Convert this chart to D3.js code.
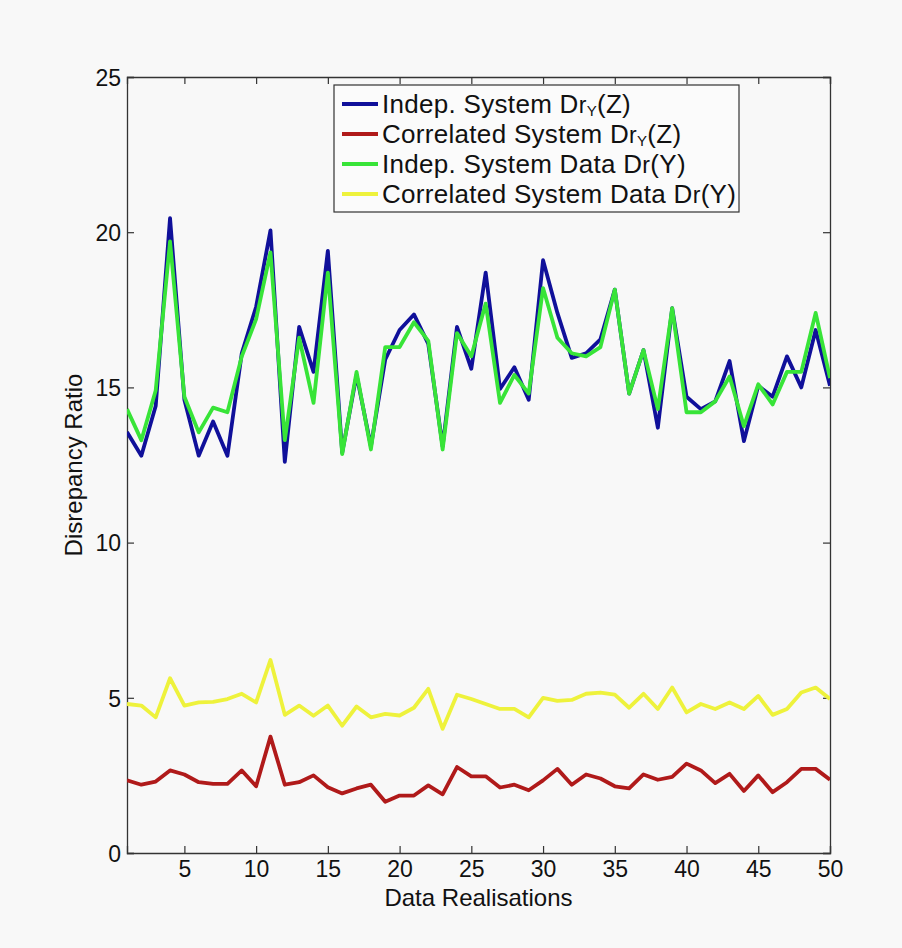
<!DOCTYPE html>
<html>
<head>
<meta charset="utf-8">
<script src="https://cdn.jsdelivr.net/npm/d3@7"></script>
<style>
html,body{margin:0;padding:0;background:#f8f8f8;}
svg{display:block;}
text{font-family:"Liberation Sans",Arial,Helvetica,sans-serif;fill:#111;}
</style>
</head>
<body>
<svg id="chart" width="902" height="948"></svg>
<script>
// ---- data ----
const realisations = d3.range(1, 51);
const indepZ = [13.56,12.8,14.4,20.45,14.6,12.8,13.9,12.8,16.1,17.6,
                20.06,12.6,16.95,15.5,19.4,12.9,15.4,13.1,15.9,16.85,
                17.35,16.4,13.1,16.95,15.6,18.7,14.95,15.65,14.6,19.1,
                17.4,15.95,16.1,16.55,18.15,14.8,16.2,13.7,17.55,14.7,
                14.3,14.55,15.85,13.27,15.05,14.7,16.0,15.0,16.85,15.05];
const corrZ = [2.34,2.2,2.3,2.66,2.53,2.28,2.23,2.23,2.66,2.15,
               3.75,2.2,2.28,2.5,2.12,1.92,2.08,2.2,1.65,1.85,
               1.85,2.18,1.89,2.77,2.47,2.47,2.11,2.2,2.02,2.34,
               2.71,2.2,2.53,2.4,2.15,2.08,2.53,2.36,2.45,2.88,
               2.66,2.25,2.55,2.0,2.5,1.96,2.28,2.71,2.71,2.36];
const indepY = [14.3,13.3,14.9,19.7,14.7,13.55,14.35,14.2,16.0,17.2,
                19.35,13.3,16.6,14.5,18.7,12.85,15.5,13.0,16.3,16.3,
                17.1,16.5,13.0,16.75,16.0,17.7,14.5,15.4,14.8,18.2,
                16.6,16.1,16.0,16.3,18.15,14.8,16.2,14.3,17.55,14.2,
                14.2,14.55,15.35,13.75,15.1,14.45,15.5,15.5,17.4,15.3];
const corrY = [4.8,4.75,4.37,5.63,4.75,4.85,4.87,4.96,5.13,4.85,
               6.22,4.45,4.75,4.42,4.75,4.1,4.72,4.37,4.48,4.43,
               4.68,5.29,4.0,5.1,4.96,4.8,4.64,4.64,4.37,5.0,
               4.9,4.93,5.13,5.17,5.1,4.68,5.13,4.64,5.33,4.53,
               4.8,4.64,4.85,4.64,5.06,4.45,4.64,5.17,5.33,4.96];
const xTicks = [5,10,15,20,25,30,35,40,45,50];
const yTicks = [0,5,10,15,20,25];
const seriesNames = ["Indep. System", "Correlated System", "Indep. System Data", "Correlated System Data"];
const seriesColors = ["#10109a", "#b01a1a", "#38e438", "#eef23c"];

// ---- layout ----
const svg = d3.select("#chart");
const W = 902, H = 948;
const mLeft = 127, mRight = 830, mTop = 77, mBottom = 853;
svg.append("rect").attr("width", W).attr("height", H).attr("fill", "#f8f8f8");

const x = d3.scaleLinear().domain([1, 50]).range([mLeft, mRight]);
const y = d3.scaleLinear().domain([0, 25]).range([mBottom, mTop]);

// axes (boxed, inward ticks)
const tickLen = 7;
const axB = svg.append("g").attr("transform", `translate(0,${mBottom})`)
  .call(d3.axisBottom(x).tickValues(xTicks).tickSize(-tickLen).tickPadding(8));
const axT = svg.append("g").attr("transform", `translate(0,${mTop})`)
  .call(d3.axisTop(x).tickValues(xTicks).tickSize(-tickLen).tickFormat(""));
const axL = svg.append("g").attr("transform", `translate(${mLeft},0)`)
  .call(d3.axisLeft(y).tickValues(yTicks).tickSize(-tickLen).tickPadding(6));
const axR = svg.append("g").attr("transform", `translate(${mRight},0)`)
  .call(d3.axisRight(y).tickValues(yTicks).tickSize(-tickLen).tickFormat(""));
[axB, axT, axL, axR].forEach(g => {
  g.select(".domain").attr("stroke", "#333").attr("stroke-width", 1.3);
  g.selectAll(".tick line").attr("stroke", "#333").attr("stroke-width", 1.2);
  g.selectAll("text").attr("font-size", 23).attr("fill", "#111")
    .attr("font-family", "Liberation Sans, Arial, sans-serif");
});
axL.selectAll(".tick text").attr("dy", "0.36em");

// axis titles
svg.append("text").attr("x", (mLeft + mRight) / 2).attr("y", 906)
  .attr("text-anchor", "middle").attr("font-size", 24).text("Data Realisations");
svg.append("text").attr("transform", `translate(82,${(mTop + mBottom) / 2}) rotate(-90)`)
  .attr("text-anchor", "middle").attr("font-size", 24).text("Disrepancy Ratio");

// lines
const allSeries = [indepZ, corrZ, indepY, corrY];
const line = d3.line().x((d, i) => x(realisations[i])).y(d => y(d));
svg.append("defs").append("clipPath").attr("id", "clip")
  .append("rect").attr("x", mLeft).attr("y", mTop).attr("width", mRight - mLeft).attr("height", mBottom - mTop);
const plot = svg.append("g").attr("clip-path", "url(#clip)");
allSeries.forEach((s, k) => {
  plot.append("path").datum(s).attr("d", line)
    .attr("fill", "none").attr("stroke", seriesColors[k])
    .attr("stroke-width", 3.8).attr("stroke-linejoin", "round");
});

// legend
const lg = svg.append("g");
lg.append("rect").attr("x", 334).attr("y", 85).attr("width", 405).attr("height", 127)
  .attr("fill", "#fbfbfb").attr("stroke", "#333").attr("stroke-width", 1.2);
const suffix = [["r", "Y", "(Z)"], ["r", "Y", "(Z)"], ["r", null, "(Y)"], ["r", null, "(Y)"]];
seriesNames.forEach((name, k) => {
  const by = 113 + k * 30;
  lg.append("line").attr("x1", 342).attr("x2", 378).attr("y1", by - 9).attr("y2", by - 9)
    .attr("stroke", seriesColors[k]).attr("stroke-width", 3.8);
  const t = lg.append("text").attr("x", 382).attr("y", by).attr("font-size", 26)
    .attr("letter-spacing", 0.3);
  t.append("tspan").text(name + " D");
  t.append("tspan").attr("font-size", 23).text(suffix[k][0]);
  if (suffix[k][1]) {
    t.append("tspan").attr("font-size", 15).attr("dy", 3).text(suffix[k][1]);
    t.append("tspan").attr("dy", -3).text(suffix[k][2]);
  } else {
    t.append("tspan").text(suffix[k][2]);
  }
});
</script>
</body>
</html>
